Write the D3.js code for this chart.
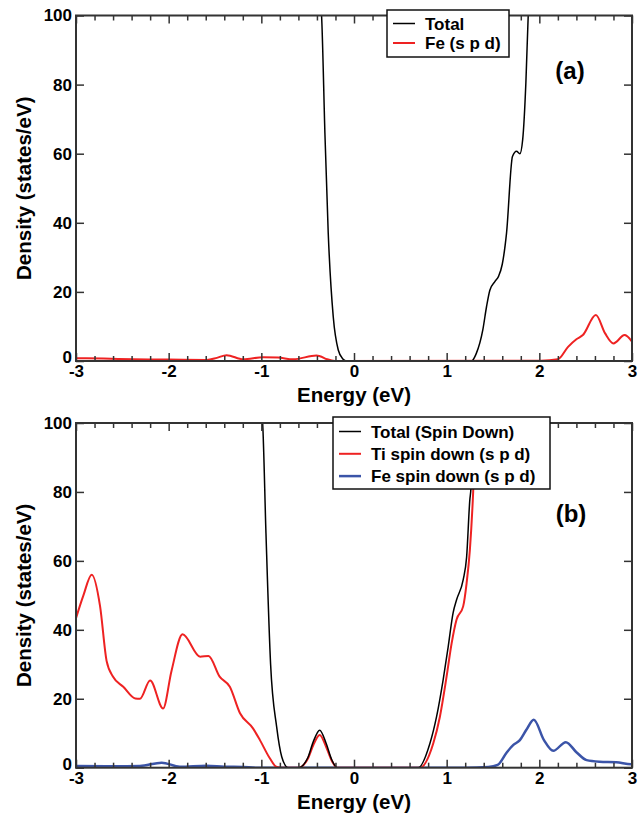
<!DOCTYPE html>
<html>
<head>
<meta charset="utf-8">
<script src="https://cdn.jsdelivr.net/npm/d3@7"></script>
<style>
  body { margin: 0; background: #fff; }
  text { font-family: "Liberation Sans", Arial, Helvetica, sans-serif; font-weight: bold; }
</style>
</head>
<body>
<svg id="chart" width="638" height="814"></svg>
<script>
// axis ticks
var xTicks = [-3, -2, -1, 0, 1, 2, 3];
var yTicks = [0, 20, 40, 60, 80, 100];

// panel (a): [energy, density]
var totalA = [[-0.36,104],[-0.35,100],[-0.314,66],[-0.278,37],[-0.224,12.8],[-0.17,3.2],[-0.12,0.6],[-0.08,0],
  [1.268,0],[1.32,2.2],[1.39,9],[1.43,15.7],[1.466,20.5],[1.52,23],[1.56,24.5],[1.6,28],[1.646,37],[1.71,59.2],
  [1.754,60.7],[1.79,60],[1.82,64],[1.855,80.7],[1.88,100],[1.89,106]];
var feA = [[-3,0.8],[-2.7,0.7],[-2.385,0.5],[-2,0.4],[-1.59,0.3],[-1.48,0.9],[-1.375,1.7],[-1.195,0.5],[-0.98,1.1],
  [-0.82,1.0],[-0.656,0.5],[-0.404,1.6],[-0.368,1.4],[-0.29,0.5],[-0.206,0],[2.02,0.1],[2.2,0.5],[2.31,4.1],
  [2.4,6.3],[2.47,7.5],[2.61,13.3],[2.71,8],[2.8,5.1],[2.92,7.5],[3,5.6]];

// panel (b)
var totalB = [[-1.0,104],[-0.986,100],[-0.95,68],[-0.9,30],[-0.835,11.9],[-0.78,3.2],[-0.71,0],[-0.6,0],
  [-0.5,2.8],[-0.44,7.5],[-0.37,10.9],[-0.3,7],[-0.24,2.3],[-0.18,0],[0.693,0],[0.819,7],[0.891,14.8],
  [0.962,25.5],[1.016,35],[1.07,45],[1.107,48.7],[1.178,54.5],[1.215,61],[1.25,77.7],[1.262,81],[1.29,105]];
var tiB = [[-3,43.4],[-2.92,50],[-2.83,56],[-2.74,46.8],[-2.67,31],[-2.6,26.4],[-2.49,23.5],[-2.36,20.1],
  [-2.31,20],[-2.2,25.3],[-2.06,17.2],[-1.97,28],[-1.85,38.7],[-1.66,32.2],[-1.57,32.4],[-1.45,26.4],
  [-1.34,23.5],[-1.23,15.8],[-1.09,11.4],[-1.015,8],[-0.91,2.8],[-0.84,0.3],[-0.78,0],[-0.6,0],[-0.5,2.5],
  [-0.44,6.5],[-0.37,9.5],[-0.3,6],[-0.24,2],[-0.18,0],[0.711,0],[0.855,7],[0.927,14.8],[0.999,26.4],
  [1.053,36],[1.107,43],[1.178,46.8],[1.215,53.5],[1.25,63],[1.286,80],[1.32,105]];
var feB = [[-3,0.5],[-2.6,0.4],[-2.31,0.5],[-2.075,1.45],[-1.88,0.3],[-1.59,0.6],[-1.4,0.3],[-1.195,0.2],
  [-1.05,0],[1.2,0],[1.45,0.2],[1.55,0.8],[1.65,4.5],[1.72,6.6],[1.79,8],[1.86,11],[1.94,13.9],[2.05,8],
  [2.15,4.9],[2.286,7.4],[2.4,4.5],[2.51,2.2],[2.65,1.75],[2.83,1.6],[2.99,1.0],[3,1.0]];

var seriesA = [
  {name: "Total", data: totalA, color: "#000", width: 1.5},
  {name: "Fe (s p d)", data: feA, color: "#ee2222", width: 2}
];
var seriesB = [
  {name: "Total (Spin Down)", data: totalB, color: "#000", width: 1.5},
  {name: "Ti spin down (s p d)", data: tiB, color: "#ee2222", width: 2},
  {name: "Fe spin down (s p d)", data: feB, color: "#3b54a8", width: 2.5}
];

var svg = d3.select("#chart");
var left = 76, right = 632;

function drawPanel(id, top, bottom, series, label, labelPos, legendBox) {
  var x = d3.scaleLinear().domain([-3, 3]).range([left, right]);
  var y = d3.scaleLinear().domain([0, 100]).range([bottom, top]);
  var g = svg.append("g");

  g.append("clipPath").attr("id", "clip" + id)
    .append("rect").attr("x", left).attr("y", top).attr("width", right - left).attr("height", bottom - top);

  var line = d3.line().x(d => x(d[0])).y(d => y(d[1])).curve(d3.curveMonotoneX);
  var curves = g.append("g").attr("clip-path", "url(#clip" + id + ")");
  // draw last series first so Total sits on top
  series.slice().reverse().forEach(s => {
    curves.append("path").datum(s.data).attr("d", line)
      .attr("fill", "none").attr("stroke", s.color).attr("stroke-width", s.width);
  });

  var minor = d3.range(-3, 3.001, 0.2).map(v => +v.toFixed(1)).filter(v => xTicks.indexOf(v) < 0);

  // minor ticks, bottom and top
  g.append("g").attr("transform", "translate(0," + bottom + ")")
    .call(d3.axisBottom(x).tickValues(minor).tickSize(-5).tickFormat(""));
  g.append("g").attr("transform", "translate(0," + top + ")")
    .call(d3.axisTop(x).tickValues(minor).tickSize(-5).tickFormat(""));
  // major ticks, plain hyphen for negatives like the original
  g.append("g").attr("class", "xlab").attr("transform", "translate(0," + bottom + ")")
    .call(d3.axisBottom(x).tickValues(xTicks).tickSize(-8).tickPadding(4).tickFormat(d => String(d)));
  g.append("g").attr("transform", "translate(0," + top + ")")
    .call(d3.axisTop(x).tickValues(xTicks).tickSize(-8).tickFormat(""));
  g.append("g").attr("class", "ylab").attr("transform", "translate(" + left + ",0)")
    .call(d3.axisLeft(y).tickValues(yTicks).tickSize(-8).tickPadding(4).tickFormat(d => String(d)));
  g.append("g").attr("transform", "translate(" + right + ",0)")
    .call(d3.axisRight(y).tickValues(yTicks).tickSize(-8).tickFormat(""));

  g.selectAll(".domain").remove();
  g.selectAll(".tick line").attr("stroke", "#333").attr("stroke-width", 1.5);
  g.selectAll(".xlab text, .ylab text").attr("font-size", 17).attr("fill", "#000");
  // lift the "0" a touch so it clears the "-3" below it
  g.selectAll(".ylab .tick").filter(d => d === 0).select("text").attr("dy", "0.1em");

  g.append("rect").attr("x", left).attr("y", top).attr("width", right - left).attr("height", bottom - top)
    .attr("fill", "none").attr("stroke", "#333").attr("stroke-width", 2);

  // axis titles
  g.append("text").attr("x", (left + right) / 2).attr("y", bottom + 41)
    .attr("text-anchor", "middle").attr("font-size", 20.5).text("Energy (eV)");
  g.append("text").attr("transform", "translate(31," + (top + bottom) / 2 + ") rotate(-90)")
    .attr("text-anchor", "middle").attr("font-size", 20.5).text("Density (states/eV)");

  // panel label
  g.append("text").attr("x", labelPos[0]).attr("y", labelPos[1])
    .attr("text-anchor", "middle").attr("font-size", 24).text(label);

  // legend
  var lg = g.append("g");
  lg.append("rect").attr("x", legendBox.x).attr("y", legendBox.y).attr("width", legendBox.w).attr("height", legendBox.h)
    .attr("fill", "#fff").attr("stroke", "#111").attr("stroke-width", 1.5);
  series.forEach((s, i) => {
    var yy = legendBox.y + legendBox.first + i * legendBox.step;
    lg.append("line").attr("x1", legendBox.x + 6).attr("x2", legendBox.x + 28).attr("y1", yy).attr("y2", yy)
      .attr("stroke", s.color).attr("stroke-width", s.width);
    lg.append("text").attr("x", legendBox.x + 38).attr("y", yy).attr("dy", "0.36em")
      .attr("font-size", 17).text(s.name);
  });
}

drawPanel("a", 15.5, 361, seriesA, "(a)", [570, 79], {x: 387, y: 10, w: 122, h: 47, first: 13.5, step: 19.5});
drawPanel("b", 423, 767.7, seriesB, "(b)", [571, 522], {x: 333, y: 417, w: 217, h: 72, first: 14.5, step: 22.3});
</script>
</body>
</html>
